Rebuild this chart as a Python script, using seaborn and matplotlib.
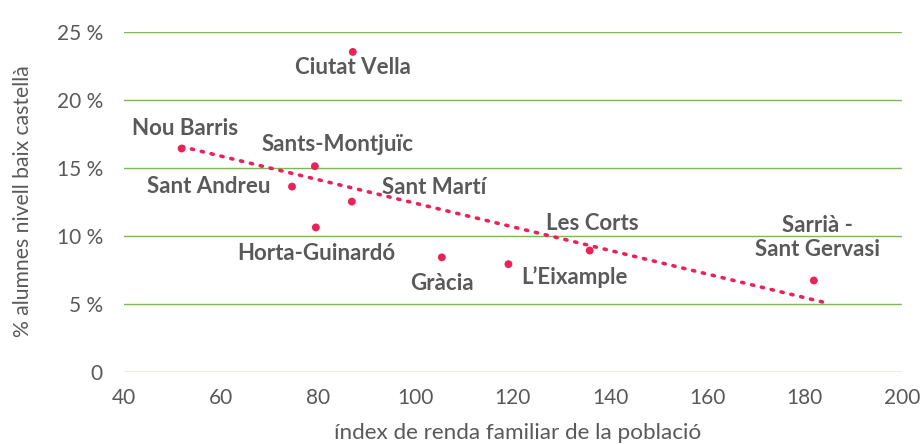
import numpy as np
import pandas as pd
import matplotlib
matplotlib.use("Agg")
import matplotlib.pyplot as plt
import seaborn as sns

# Data
districts = ["Nou Barris", "Ciutat Vella", "Sants-Montjuïc", "Sant Andreu", "Sant Martí",
             "Horta-Guinardó", "Gràcia", "L\u2019Eixample", "Les Corts", "Sarrià -\nSant Gervasi"]
renda = [51.9, 87.1, 79.3, 74.6, 86.9, 79.5, 105.4, 119.1, 135.8, 181.9]
baix_castella = [16.4, 23.5, 15.1, 13.6, 12.5, 10.6, 8.4, 7.9, 8.9, 6.7]

df = pd.DataFrame({"districte": districts, "renda": renda, "pct": baix_castella})

# label placement (offset in pixels, alignment)
label_pos = {
    "Nou Barris": (3, 20, "center"),
    "Ciutat Vella": (0, -16, "center"),
    "Sants-Montjuïc": (23, 22, "center"),
    "Sant Andreu": (-22, 0, "right"),
    "Sant Martí": (30, 14, "left"),
    "Horta-Guinardó": (0, -26, "center"),
    "Gràcia": (0, -26, "center"),
    "L\u2019Eixample": (13, -13, "left"),
    "Les Corts": (3, 27, "center"),
    "Sarrià -\nSant Gervasi": (4, 43, "center"),
}

pink = "#E8235A"
grey = "#595959"

sns.set_theme(style="white")
plt.rcParams["font.family"] = ["Lato", "DejaVu Sans"]

fig = plt.figure(figsize=(9.22, 4.44), dpi=100)
ax = fig.add_axes([0.1342, 0.163, 0.844, 0.766])

# linear trendline (with a short forward projection like the original)
slope, intercept = np.polyfit(df["renda"], df["pct"], 1)
xt = np.array([df["renda"].min(), df["renda"].max() + 2.4])
ax.plot(xt, slope * xt + intercept, color=pink, lw=2.6, ls=(0, (0.6, 2.2)),
        dash_capstyle="round", zorder=2)

sns.scatterplot(data=df, x="renda", y="pct", ax=ax, color=pink, s=32,
                edgecolor="none", zorder=3)

for _, r in df.iterrows():
    dx, dy, ha = label_pos[r["districte"]]
    ax.annotate(r["districte"], (r["renda"], r["pct"]), xytext=(dx, dy),
                textcoords="offset pixels", ha=ha, va="center",
                fontsize=16, fontweight="bold", color=grey,
                linespacing=1.2)

ax.set_xlim(40, 200)
ax.set_ylim(0, 25)
ax.set_xticks(range(40, 201, 20))
ax.set_yticks(range(0, 26, 5))
ax.set_yticklabels(["0"] + [f"{v} %" for v in range(5, 26, 5)])
ax.yaxis.grid(True, color="#7DB55A", lw=1)
ax.xaxis.grid(False)
for s in ax.spines.values():
    s.set_visible(False)
ax.tick_params(axis="both", colors=grey, labelsize=15, length=0)
ax.tick_params(axis="x", pad=12)
ax.tick_params(axis="y", pad=15)
ax.set_xlabel("índex de renda familiar de la població", color=grey, fontsize=16.2)
ax.set_ylabel("% alumnes nivell baix castellà", color=grey, fontsize=15.2)
ax.xaxis.set_label_coords(0.506, -0.152)
ax.yaxis.set_label_coords(-0.117, 0.5)

fig.savefig("out.png", dpi=100)
